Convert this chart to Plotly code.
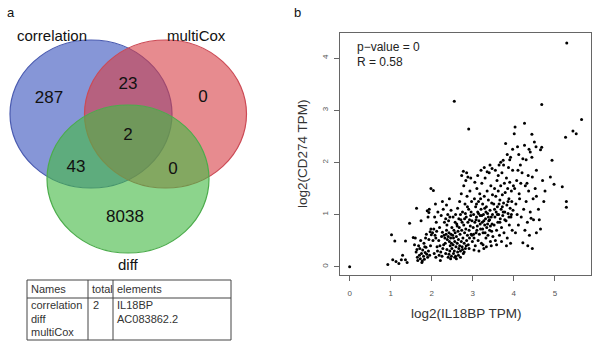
import plotly.graph_objects as go

# ---------------- data ----------------
venn_sets = ["correlation", "multiCox", "diff"]
# region counts: corr only, corr&multi, multi only, all three, corr&diff, multi&diff, diff only
venn_regions = ["corr", "corr_multi", "multi", "all", "corr_diff", "multi_diff", "diff"]
venn_counts = [287, 23, 0, 2, 43, 0, 8038]

table_header = ["Names", "total", "elements"]
table_names = ["correlation", "diff", "multiCox"]
table_total = ["2"]
table_elements = ["IL18BP", "AC083862.2"]

p_value_text = "p\u2212value = 0"
r_text = "R = 0.58"

il18bp = [
    0.00, 0.93, 1.02, 1.10, 1.05, 1.13, 1.26, 1.36, 1.29, 1.36, 1.46, 1.40, 1.20,
    1.55, 1.60, 1.63, 1.74, 1.89, 1.93, 1.98, 1.58, 1.62, 1.65, 1.66, 1.70, 1.72, 1.75, 1.77, 1.78, 1.80,
    1.82, 1.84, 1.86, 1.88, 1.90, 1.92, 1.95, 1.97, 1.99, 1.68, 1.73, 1.81, 1.85, 1.91, 1.94, 1.96, 1.98,
    1.76, 1.64, 1.87, 1.93, 1.71, 1.83,
    2.04, 2.09, 2.05, 2.02, 2.08, 2.10, 2.12, 2.06, 2.10, 2.14, 2.18, 2.20, 2.22, 2.25, 2.27, 2.30, 2.32,
    2.33, 2.35, 2.36, 2.38, 2.40, 2.42, 2.43, 2.44, 2.45, 2.46, 2.47, 2.48, 2.49, 2.15, 2.23, 2.28, 2.31,
    2.34, 2.37, 2.39, 2.41, 2.44, 2.47, 2.17, 2.24, 2.26, 2.29, 2.21, 2.34, 2.37, 2.40, 2.42, 2.46, 2.48,
    2.13, 2.19, 2.11, 2.26, 2.36, 2.43, 2.49, 2.03, 2.07,
    2.55, 2.90, 2.77,
    2.51, 2.52, 2.53, 2.54, 2.55, 2.56, 2.57, 2.58, 2.59, 2.60, 2.61, 2.62, 2.63, 2.64, 2.65, 2.66, 2.67,
    2.68, 2.69, 2.70, 2.71, 2.72, 2.73, 2.74, 2.75, 2.76, 2.77, 2.78, 2.79, 2.80, 2.81, 2.82, 2.83, 2.84,
    2.85, 2.86, 2.87, 2.88, 2.89, 2.90, 2.91, 2.92, 2.93, 2.94, 2.95, 2.96, 2.97, 2.98, 2.99,
    2.52, 2.58, 2.63, 2.68, 2.72, 2.78, 2.83, 2.88, 2.73, 2.85, 2.95,
    2.57, 2.62, 2.66, 2.70, 2.74, 2.80, 2.82, 2.87, 2.92, 2.96,
    2.60, 2.65, 2.70, 2.75, 2.79, 2.84, 2.91, 2.98, 2.53, 2.56,
    3.01, 3.02, 3.03, 3.04, 3.05, 3.06, 3.07, 3.08, 3.09, 3.10, 3.11, 3.12, 3.13, 3.14, 3.15, 3.16, 3.17,
    3.18, 3.19, 3.20, 3.21, 3.22, 3.23, 3.24, 3.25, 3.26, 3.27, 3.28, 3.29, 3.30, 3.31, 3.32, 3.33, 3.34,
    3.35, 3.36, 3.37, 3.38, 3.39, 3.40, 3.41, 3.42, 3.43, 3.44, 3.45, 3.46, 3.47, 3.48, 3.49,
    3.05, 3.12, 3.20, 3.28, 3.35, 3.42, 3.47,
    3.03, 3.15, 3.25, 3.33, 3.45,
    3.08, 3.18, 3.22, 3.27, 3.32, 3.38, 3.43, 3.48,
    3.02, 3.10, 3.14, 3.24, 3.30, 3.36, 3.41, 3.46,
    3.09, 3.19, 3.29,
    3.51, 3.52, 3.53, 3.54, 3.55, 3.56, 3.57, 3.58, 3.59, 3.60, 3.61, 3.62, 3.63, 3.64, 3.65, 3.66, 3.67,
    3.68, 3.69, 3.70, 3.71, 3.72, 3.73, 3.74, 3.75, 3.76, 3.77, 3.78, 3.79, 3.80, 3.81, 3.82, 3.83, 3.84,
    3.85, 3.86, 3.87, 3.88, 3.89, 3.90, 3.91, 3.92, 3.93, 3.94, 3.95, 3.96, 3.97, 3.98, 3.99,
    3.55, 3.62, 3.68, 3.75, 3.84, 3.90, 3.97,
    3.58, 3.70, 3.82, 3.92,
    3.60, 3.66, 3.72, 3.78, 3.86, 3.94,
    3.53, 3.64, 3.74, 3.88,
    4.01, 4.03, 4.26, 4.44, 4.09, 4.26, 4.37, 4.40, 4.22, 4.30, 4.44, 4.10, 4.20, 4.35, 4.45, 4.17, 4.13,
    4.02, 4.05, 4.08, 4.11, 4.14, 4.18, 4.22, 4.24, 4.27, 4.30, 4.33, 4.36, 4.38, 4.40, 4.42, 4.45, 4.47,
    4.07, 4.16, 4.28, 4.34, 4.04, 4.48, 4.12, 4.32,
    4.50, 4.54, 4.65, 4.68, 4.55, 4.52, 4.55, 4.55, 4.65, 4.76, 4.73, 4.89, 4.93, 4.70, 4.98, 4.60, 4.68, 4.62,
    5.29, 5.65, 5.44, 5.52, 5.26, 5.18, 5.28, 5.28,
]

cd274 = [
    0.00, 0.04, 0.61, 0.49, 0.13, 0.10, 0.13, 0.13, 0.22, 0.49, 0.83, 0.08, 0.06,
    0.56, 0.55, 1.12, 0.88, 1.07, 1.04, 1.50, 0.42, 0.28, 0.18, 0.12, 0.22, 0.15, 0.25, 0.11, 0.32, 0.20,
    0.14, 0.27, 0.37, 0.24, 0.18, 0.30, 0.22, 0.40, 0.61, 0.40, 0.50, 0.45, 0.55, 0.95, 1.10, 0.67, 0.72,
    0.08, 0.33, 0.62, 0.52, 0.35, 0.38,
    1.46, 1.20, 0.72, 0.65, 0.60, 0.55, 0.68, 0.25, 0.18, 0.30, 0.22, 0.40, 0.28, 0.20, 0.35, 0.60, 0.55,
    0.45, 0.62, 0.70, 0.52, 0.58, 0.65, 0.48, 0.30, 0.40, 0.55, 0.62, 0.20, 0.75, 1.05, 0.98, 1.10, 0.85,
    0.92, 0.80, 1.00, 0.88, 0.95, 1.08, 0.50, 0.58, 0.66, 0.42, 0.12, 0.25, 0.33, 0.18, 0.24, 0.15, 0.45,
    0.38, 0.75, 0.85, 1.25, 1.18, 1.30, 0.35, 0.50, 0.95,
    3.17, 2.64, 1.83,
    0.60, 0.42, 0.55, 0.70, 0.30, 0.48, 0.65, 0.20, 0.38, 0.58, 0.82, 0.45, 0.28, 0.68, 0.52, 0.35, 0.75,
    0.40, 0.62, 0.30, 0.90, 0.48, 0.70, 0.38, 1.05, 0.55, 0.25, 0.80, 0.45, 0.65, 1.20, 0.35, 0.72, 0.95,
    0.50, 1.35, 0.60, 0.85, 0.42, 1.10, 0.70, 0.55, 1.45, 0.78, 0.98, 0.62, 1.25, 0.88, 0.48,
    0.95, 1.00, 1.12, 1.25, 1.40, 1.55, 1.65, 1.72, 1.75, 1.80, 1.70,
    0.85, 0.78, 0.92, 1.00, 0.85, 0.92, 1.02, 1.15, 0.90, 1.05,
    0.15, 0.22, 0.18, 0.33, 0.28, 0.40, 0.35, 0.60, 0.25, 0.18,
    0.75, 1.00, 0.55, 1.30, 0.85, 0.40, 1.15, 0.65, 0.95, 1.50, 0.78, 1.05, 0.50, 1.25, 0.88, 0.62, 1.40,
    0.98, 0.72, 1.10, 0.45, 1.60, 0.85, 1.20, 0.65, 1.00, 0.35, 1.35, 0.80, 1.70, 0.92, 0.55, 1.15, 0.75,
    1.45, 1.02, 0.60, 1.28, 0.88, 1.80, 0.70, 1.08, 0.48, 1.55, 0.95, 1.22, 0.82, 1.38, 0.58,
    1.62, 1.75, 1.85, 1.90, 1.82, 1.95, 1.88,
    0.32, 0.30, 0.42, 0.38, 0.40,
    0.90, 0.82, 0.98, 0.88, 1.05, 0.95, 0.78, 1.00,
    0.62, 0.70, 1.02, 0.72, 0.65, 0.82, 0.90, 0.68,
    1.20, 1.30, 1.12,
    1.20, 0.80, 1.50, 0.95, 0.50, 1.35, 1.05, 0.70, 1.65, 1.15, 0.85, 1.45, 1.00, 1.95, 0.60, 1.28, 0.92,
    1.55, 1.10, 0.75, 1.80, 1.38, 0.98, 2.04, 1.22, 0.65, 1.60, 1.05, 1.42, 2.36, 0.88, 1.70, 1.18, 0.55,
    1.50, 1.02, 1.90, 1.30, 0.80, 1.62, 1.12, 2.10, 0.95, 1.45, 1.25, 0.70, 1.85, 1.08, 1.55,
    1.85, 1.75, 2.00, 1.95, 2.15, 2.05, 2.25,
    0.42, 0.48, 0.40, 0.45,
    1.00, 0.85, 1.15, 0.90, 1.25, 1.00,
    1.10, 1.20, 1.05, 0.95,
    2.55, 2.68, 2.75, 2.54, 2.30, 2.33, 2.25, 2.20, 2.07, 2.05, 2.10, 1.85, 1.80, 1.75, 1.72, 1.60, 1.40,
    1.50, 1.20, 1.00, 0.80, 1.30, 0.95, 0.46, 1.10, 0.70, 1.25, 0.85, 1.45, 0.60, 1.05, 0.93, 0.35, 1.30,
    1.65, 1.95, 1.55, 0.40, 0.65, 0.90, 2.15, 1.60,
    2.39, 2.30, 2.24, 2.29, 1.85, 1.50, 1.35, 0.65, 0.72, 1.45, 1.25, 1.72, 2.04, 1.65, 1.58, 1.10, 3.11, 0.90,
    4.29, 2.82, 2.60, 2.55, 2.48, 1.53, 1.25, 1.14,
]

x_ticks = [0, 1, 2, 3, 4, 5]
y_ticks = [0, 1, 2, 3, 4]
x_title = "log2(IL18BP TPM)"
y_title = "log2(CD274 TPM)"

# ---------------- figure ----------------
W, H = 592, 344
FONT = "Arial, Liberation Sans, sans-serif"

fig = go.Figure()

# scatter panel (b)
fig.add_trace(go.Scatter(
    x=il18bp, y=cd274, mode="markers",
    marker=dict(color="black", size=3.0, line=dict(width=0)),
    xaxis="x", yaxis="y", showlegend=False, hoverinfo="skip",
))

# Venn panel (a): pixel-like coordinate system on x2/y2
circle_centers = {"correlation": (91, 114), "multiCox": (165.5, 114), "diff": (128, 179)}
rx, ry = 81, 74
fills = {"correlation": "rgba(60,85,190,0.62)",
         "multiCox": "rgba(215,62,68,0.6)",
         "diff": "rgba(70,185,70,0.62)"}
borders = {"correlation": "#4a5bb0", "multiCox": "#cc4a55", "diff": "#4cac4c"}
shapes = []
for s in venn_sets:
    cx, cy = circle_centers[s]
    shapes.append(dict(type="circle", xref="x2", yref="y2",
                       x0=cx - rx, x1=cx + rx, y0=cy - ry, y1=cy + ry,
                       fillcolor=fills[s], line=dict(color=borders[s], width=1.2),
                       layer="below"))

region_pos = {"corr": (49, 99), "corr_multi": (128, 85), "multi": (203, 98), "all": (128, 136),
              "corr_diff": (76, 168), "multi_diff": (173, 170), "diff": (125, 218)}
fig.add_trace(go.Scatter(
    x=[region_pos[r][0] for r in venn_regions],
    y=[region_pos[r][1] for r in venn_regions],
    text=[str(c) for c in venn_counts], mode="text",
    textfont=dict(family=FONT, size=17, color="#111"),
    xaxis="x2", yaxis="y2", showlegend=False, hoverinfo="skip",
))

set_label_pos = {"correlation": (52, 35), "multiCox": (196, 35), "diff": (128, 264)}
annotations = []
for s in venn_sets:
    lx, ly = set_label_pos[s]
    annotations.append(dict(x=lx, y=ly, xref="x2", yref="y2", text=s, showarrow=False,
                            font=dict(family=FONT, size=15, color="#111"),
                            xanchor="center", yanchor="middle"))

# table below the Venn
tx0, tx1, ty0, ty1 = 27, 231, 280, 340
c1, c2, hy = 88, 113, 298
tcol = "#444"
shapes.append(dict(type="rect", xref="x2", yref="y2", x0=tx0, x1=tx1, y0=ty0, y1=ty1,
                   line=dict(color=tcol, width=1), fillcolor="rgba(0,0,0,0)"))
for xc in (c1, c2):
    shapes.append(dict(type="line", xref="x2", yref="y2", x0=xc, x1=xc, y0=ty0, y1=ty1,
                       line=dict(color=tcol, width=1)))
shapes.append(dict(type="line", xref="x2", yref="y2", x0=tx0, x1=tx1, y0=hy, y1=hy,
                   line=dict(color=tcol, width=1)))

tfont = dict(family=FONT, size=11, color="#333")
for txt, xx in zip(table_header, (tx0 + 1.5, c1 + 1.5, c2 + 1.5)):
    annotations.append(dict(x=xx, y=289, xref="x2", yref="y2", text=txt, showarrow=False,
                            font=tfont, xanchor="left", yanchor="middle"))
row_y = [305, 318.5, 332]
for i, nm in enumerate(table_names):
    annotations.append(dict(x=tx0 + 1.5, y=row_y[i], xref="x2", yref="y2", text=nm, showarrow=False,
                            font=tfont, xanchor="left", yanchor="middle"))
for i, t in enumerate(table_total):
    annotations.append(dict(x=c1 + 3, y=row_y[i], xref="x2", yref="y2", text=t, showarrow=False,
                            font=tfont, xanchor="left", yanchor="middle"))
for i, el in enumerate(table_elements):
    annotations.append(dict(x=c2 + 1.5, y=row_y[i], xref="x2", yref="y2", text=el, showarrow=False,
                            font=tfont, xanchor="left", yanchor="middle"))

# panel letters
annotations.append(dict(x=11 / W, y=1 - 13 / H, xref="paper", yref="paper", text="a", showarrow=False,
                        font=dict(family=FONT, size=13, color="#111"), xanchor="center", yanchor="middle"))
annotations.append(dict(x=297 / W, y=1 - 13 / H, xref="paper", yref="paper", text="b", showarrow=False,
                        font=dict(family=FONT, size=13, color="#111"), xanchor="center", yanchor="middle"))

# scatter texts
annotations.append(dict(x=355 / W, y=1 - 47 / H, xref="paper", yref="paper", text=p_value_text,
                        showarrow=False, font=dict(family=FONT, size=12, color="#222"),
                        xanchor="left", yanchor="middle"))
annotations.append(dict(x=355 / W, y=1 - 62 / H, xref="paper", yref="paper", text=r_text,
                        showarrow=False, font=dict(family=FONT, size=12, color="#222"),
                        xanchor="left", yanchor="middle"))
annotations.append(dict(x=466 / W, y=1 - 313 / H, xref="paper", yref="paper", text=x_title,
                        showarrow=False, font=dict(family=FONT, size=13.5, color="#333"),
                        xanchor="center", yanchor="middle"))
annotations.append(dict(x=302 / W, y=1 - 154 / H, xref="paper", yref="paper", text=y_title,
                        showarrow=False, textangle=-90, font=dict(family=FONT, size=13.5, color="#333"),
                        xanchor="center", yanchor="middle"))

axcol = "#666"
fig.update_layout(
    width=W, height=H, margin=dict(l=0, r=0, t=0, b=0),
    paper_bgcolor="white", plot_bgcolor="rgba(0,0,0,0)",
    font=dict(family=FONT),
    showlegend=False,
    shapes=shapes, annotations=annotations,
    xaxis=dict(domain=[340 / W, 591 / W], range=[-0.235, 5.88], anchor="y",
               tickvals=x_ticks, ticks="outside", ticklen=5, tickcolor=axcol, tickwidth=1,
               showline=True, linecolor=axcol, linewidth=1, mirror=True,
               showgrid=False, zeroline=False,
               tickfont=dict(family=FONT, size=8, color="#555"), ticklabelstandoff=5),
    yaxis=dict(domain=[1 - 275 / H, 1 - 33 / H], range=[-0.16, 4.48], anchor="x",
               tickvals=y_ticks, ticks="outside", ticklen=5, tickcolor=axcol, tickwidth=1,
               showline=True, linecolor=axcol, linewidth=1, mirror=True,
               showgrid=False, zeroline=False, tickangle=-90,
               tickfont=dict(family=FONT, size=8, color="#555"), ticklabelstandoff=3),
    xaxis2=dict(domain=[0, 290 / W], range=[0, 290], anchor="y2", visible=False, fixedrange=True),
    yaxis2=dict(domain=[0, 1], range=[H, 0], anchor="x2", visible=False, fixedrange=True),
)

fig.write_html(
    "out.html",
    config={"displayModeBar": False},
    post_script="document.body.style.margin='0';document.body.style.padding='0';document.body.style.overflow='hidden';",
)
